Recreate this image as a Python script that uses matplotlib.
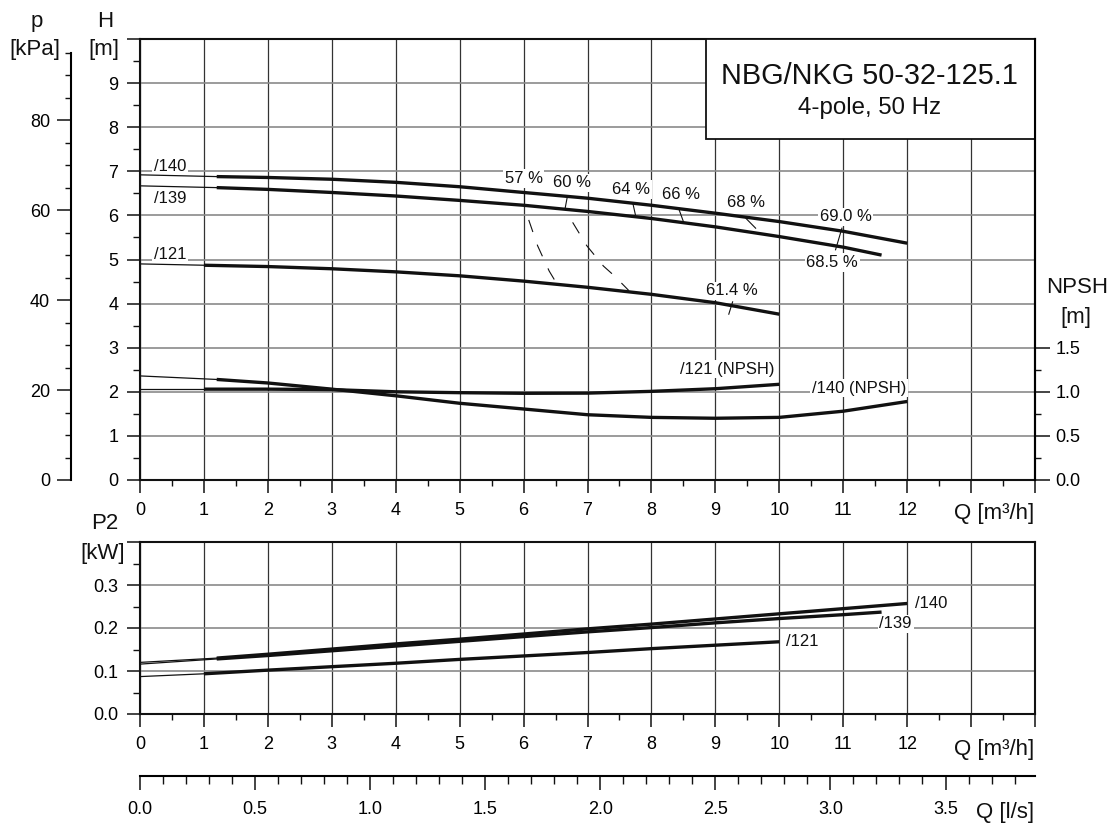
import matplotlib.pyplot as plt
from matplotlib import ticker
from matplotlib.patches import Rectangle

plt.rcParams['font.family'] = ['Liberation Sans', 'DejaVu Sans']

# head curves H(Q), Q in m3/h, H in m
q140 = [0, 1.2, 2, 3, 4, 5, 6, 7, 8, 9, 10, 11, 12]
h140 = [6.92, 6.88, 6.86, 6.82, 6.75, 6.65, 6.52, 6.39, 6.23, 6.05, 5.86, 5.64, 5.37]
q139 = [0, 1.2, 2, 3, 4, 5, 6, 7, 8, 9, 10, 11, 11.6]
h139 = [6.67, 6.63, 6.59, 6.52, 6.44, 6.34, 6.23, 6.09, 5.93, 5.74, 5.52, 5.28, 5.10]
q121 = [0, 1, 2, 3, 4, 5, 6, 7, 8, 9, 10]
h121 = [4.90, 4.87, 4.84, 4.79, 4.72, 4.63, 4.51, 4.37, 4.21, 4.02, 3.76]

# NPSH curves [m]
npsh140 = [1.18, 1.14, 1.10, 1.03, 0.955, 0.87, 0.805, 0.74, 0.71, 0.70, 0.71, 0.78, 0.89]
npsh121 = [1.03, 1.03, 1.03, 1.025, 1.0, 0.99, 0.983, 0.985, 1.005, 1.035, 1.085]

# shaft power P2 [kW]
p2_140 = [0.120, 0.130, 0.139, 0.151, 0.163, 0.174, 0.186, 0.198, 0.209, 0.221, 0.233, 0.245, 0.257]
p2_139 = [0.116, 0.128, 0.136, 0.147, 0.158, 0.169, 0.180, 0.191, 0.201, 0.212, 0.222, 0.231, 0.237]
p2_121 = [0.087, 0.0935, 0.102, 0.110, 0.118, 0.127, 0.135, 0.143, 0.152, 0.160, 0.168]

# efficiency labels and marks
eff_labels = ['57 %', '60 %', '64 %', '66 %', '68 %', '69.0 %', '68.5 %', '61.4 %']
eff_label_q = [6.0, 6.75, 7.68, 8.46, 9.48, 11.04, 10.83, 9.26]
eff_label_h = [6.84, 6.74, 6.59, 6.48, 6.30, 5.97, 4.93, 4.29]
eff_mark_q = [(6.0, 6.0), (6.68, 6.65), (7.71, 7.75), (8.43, 8.5), (9.48, 9.63), (10.98, 10.88), (9.27, 9.21)]
eff_mark_h = [(6.50, 6.24), (6.39, 6.16), (6.27, 6.01), (6.14, 5.86), (5.93, 5.71), (5.71, 5.22), (4.04, 3.76)]
iso57_q = [6.02, 6.08, 6.22, 6.40, 6.52]
iso57_h = [6.20, 5.90, 5.31, 4.74, 4.45]
iso60_q = [6.68, 6.76, 6.99, 7.25, 7.42, 7.65]
iso60_h = [6.13, 5.86, 5.31, 4.85, 4.63, 4.29]

W, H = 1113, 823
K = '#111111'
TICK = 13
LAB = 16
ANN = 12


def fx(px):
    return px / W


def fy(py):
    return 1 - py / H


fig = plt.figure(figsize=(W / 100, H / 100), dpi=100)

left, right = fx(140), fx(1035)
ax = fig.add_axes([left, fy(480), right - left, fy(39) - fy(480)])
ax2 = fig.add_axes([left, fy(714), right - left, fy(542) - fy(714)])


def style_q_axis(a):
    a.set_xlim(0, 14)
    a.xaxis.set_major_locator(ticker.FixedLocator(range(15)))
    a.xaxis.set_major_formatter(ticker.FixedFormatter([str(i) for i in range(13)] + ['', '']))
    a.xaxis.set_minor_locator(ticker.MultipleLocator(0.5))
    a.tick_params(axis='x', which='major', direction='out', length=9.5, width=1.1,
                  labelsize=TICK, pad=6, color=K)
    a.tick_params(axis='x', which='minor', direction='out', length=4.3, width=1.0, color=K)
    a.tick_params(axis='y', which='major', direction='out', length=9.5, width=1.1,
                  labelsize=TICK, pad=6, color=K)
    a.tick_params(axis='y', which='minor', direction='out', length=5, width=1.0, color=K)
    for s in a.spines.values():
        s.set_linewidth(1.5)
        s.set_color(K)
    a.grid(axis='x', which='major', color='#333333', lw=0.9)
    a.grid(axis='y', which='major', color='#8a8a8a', lw=1.2)
    a.set_axisbelow(True)


# ---- top panel: head ----
style_q_axis(ax)
ax.set_ylim(0, 10)
ax.yaxis.set_major_locator(ticker.FixedLocator(range(11)))
ax.yaxis.set_major_formatter(ticker.FixedFormatter([str(i) for i in range(10)] + ['']))
ax.yaxis.set_minor_locator(ticker.MultipleLocator(0.5))

for q, h in [(q140, h140), (q139, h139), (q121, h121)]:
    ax.plot(q[:2], h[:2], color=K, lw=0.9, zorder=4)
    ax.plot(q[1:], h[1:], color=K, lw=2.4, zorder=4, solid_capstyle='butt')

for mq, mh in zip(eff_mark_q, eff_mark_h):
    ax.plot(mq, mh, color=K, lw=0.8, zorder=5)
ax.plot(iso57_q, iso57_h, color=K, lw=0.8, ls=(11, (11.5, 12)), zorder=4)
ax.plot(iso60_q, iso60_h, color=K, lw=0.8, ls=(11, (11.5, 12)), zorder=4)

wbox = dict(boxstyle='square,pad=0.1', fc='white', ec='none')
for t, q, h in zip(eff_labels, eff_label_q, eff_label_h):
    ax.text(q, h, t, ha='center', va='center', fontsize=ANN, color=K, bbox=wbox, zorder=3)

for t, h in [('/140', 7.12), ('/139', 6.39), ('/121', 5.12)]:
    ax.text(0.47, h, t, ha='center', va='center', fontsize=ANN, color=K, bbox=wbox, zorder=3)
ax.text(9.19, 2.51, '/121 (NPSH)', ha='center', va='center', fontsize=ANN, color=K, bbox=wbox, zorder=3)
ax.text(11.25, 2.08, '/140 (NPSH)', ha='center', va='center', fontsize=ANN, color=K, bbox=wbox, zorder=3)

# title box
ax.add_patch(Rectangle((8.86, 7.73), 14 - 8.86, 10 - 7.73, fc='white', ec=K, lw=1.3,
                       zorder=6, clip_on=False))
ax.text(11.41, 9.16, 'NBG/NKG 50-32-125.1', ha='center', va='center', fontsize=20.8,
        color=K, zorder=7)
ax.text(11.41, 8.44, '4-pole, 50 Hz', ha='center', va='center', fontsize=17.3,
        color=K, zorder=7)

# NPSH axis on the right
axn = ax.twinx()
axn.set_ylim(0, 5)
for s in ['left', 'top', 'bottom']:
    axn.spines[s].set_visible(False)
axn.spines['right'].set_linewidth(1.5)
axn.yaxis.set_major_locator(ticker.FixedLocator([0, 0.5, 1.0, 1.5]))
axn.yaxis.set_major_formatter(ticker.FormatStrFormatter('%.1f'))
axn.yaxis.set_minor_locator(ticker.FixedLocator([0.25, 0.75, 1.25]))
axn.tick_params(axis='y', which='major', direction='out', length=10.5, width=1.1,
                labelsize=TICK, pad=4, color=K)
axn.tick_params(axis='y', which='minor', direction='out', length=4.3, width=1.0, color=K)
axn.plot(q140[:2], npsh140[:2], color=K, lw=0.9, zorder=4)
axn.plot(q140[1:], npsh140[1:], color=K, lw=2.4, zorder=4, solid_capstyle='butt')
axn.plot(q121[:2], npsh121[:2], color=K, lw=0.9, zorder=4)
axn.plot(q121[1:], npsh121[1:], color=K, lw=2.4, zorder=4, solid_capstyle='butt')

# pressure axis p [kPa] on the far left
axp = fig.add_axes(ax.get_position().bounds)
axp.patch.set_visible(False)
axp.set_ylim(0, 10 * 9.81)
axp.xaxis.set_visible(False)
for s in ['right', 'top', 'bottom']:
    axp.spines[s].set_visible(False)
axp.spines['left'].set_position(('axes', -69 / 895))
axp.spines['left'].set_bounds(0, 95)
axp.spines['left'].set_linewidth(1.5)
axp.yaxis.set_major_locator(ticker.FixedLocator([0, 20, 40, 60, 80]))
axp.yaxis.set_minor_locator(ticker.FixedLocator(range(5, 100, 5)))
axp.tick_params(axis='y', which='major', direction='out', length=10, width=1.1,
                labelsize=TICK, pad=5, color=K)
axp.tick_params(axis='y', which='minor', direction='out', length=4.3, width=1.0, color=K)

# ---- bottom panel: P2 ----
style_q_axis(ax2)
ax2.set_ylim(0, 0.4)
ax2.yaxis.set_major_locator(ticker.FixedLocator([0, 0.1, 0.2, 0.3, 0.4]))
ax2.yaxis.set_major_formatter(ticker.FixedFormatter(['0.0', '0.1', '0.2', '0.3', '']))
ax2.yaxis.set_minor_locator(ticker.MultipleLocator(0.05))
for q, p in [(q140, p2_140), (q139, p2_139), (q121, p2_121)]:
    ax2.plot(q[:2], p[:2], color=K, lw=0.9, zorder=4)
    ax2.plot(q[1:], p[1:], color=K, lw=2.4, zorder=4, solid_capstyle='butt')
ax2.text(12.37, 0.257, '/140', ha='center', va='center', fontsize=ANN, color=K, bbox=wbox, zorder=3)
ax2.text(11.82, 0.210, '/139', ha='center', va='center', fontsize=ANN, color=K, bbox=wbox, zorder=3)
ax2.text(10.36, 0.168, '/121', ha='center', va='center', fontsize=ANN, color=K, bbox=wbox, zorder=3)

# ---- flow axis in l/s ----
ax3 = fig.add_axes([left, fy(776), right - left, 1e-4])
ax3.patch.set_visible(False)
ax3.set_xlim(0, 14 / 3.6)
ax3.yaxis.set_visible(False)
for s in ['left', 'right', 'top']:
    ax3.spines[s].set_visible(False)
ax3.spines['bottom'].set_linewidth(1.5)
ax3.xaxis.set_major_locator(ticker.MultipleLocator(0.5))
ax3.xaxis.set_major_formatter(ticker.FormatStrFormatter('%.1f'))
ax3.xaxis.set_minor_locator(ticker.MultipleLocator(0.1))
ax3.tick_params(axis='x', which='major', direction='out', length=10, width=1.1,
                labelsize=TICK, pad=8, color=K)
ax3.tick_params(axis='x', which='minor', direction='out', length=6, width=1.0, color=K)

# ---- axis titles ----
for t, x, y in [('p', 36.7, 26.7), ('[kPa]', 35, 55), ('H', 105, 26.7), ('[m]', 104, 55),
                ('NPSH', 1076.7, 293.3), ('[m]', 1076, 323.3),
                ('P2', 105, 529.3), ('[kW]', 103, 559.3)]:
    fig.text(fx(x), fy(y), t, ha='center', va='baseline', fontsize=LAB, color=K)
fig.text(fx(1034), fy(518.5), 'Q [m³/h]', ha='right', va='baseline', fontsize=LAB, color=K)
fig.text(fx(1034), fy(755), 'Q [m³/h]', ha='right', va='baseline', fontsize=LAB, color=K)
fig.text(fx(1034), fy(818), 'Q [l/s]', ha='right', va='baseline', fontsize=LAB, color=K)

fig.savefig('out.png', dpi=100)
